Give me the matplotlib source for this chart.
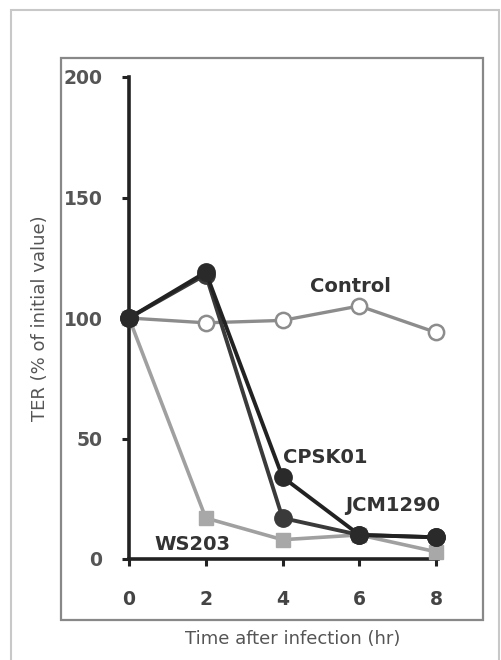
import matplotlib
matplotlib.use('Agg')
import matplotlib.pyplot as plt
from matplotlib.patches import Rectangle

# data
hours = [0, 2, 4, 6, 8]
control = [100, 98, 99, 105, 94]
cpsk01 = [100, 119, 34, 10, 9]
jcm1290 = [100, 118, 17, 10, 9]
ws203 = [100, 17, 8, 10, 3]

W, H = 501, 660
fig = plt.figure(figsize=(W / 100, H / 100), dpi=100)
fig.patch.set_facecolor('white')

# frames drawn on the figure (pixel coords -> figure fraction)
def box(x0, y0, x1, y1, color, lw):
    fig.patches.append(Rectangle((x0 / W, 1 - y1 / H), (x1 - x0) / W, (y1 - y0) / H,
                                 transform=fig.transFigure, fill=False,
                                 edgecolor=color, linewidth=lw))

box(11, 10, 499, 662, '#c8c8c8', 1.5)
box(61, 58, 483, 620, '#888888', 1.6)

ax = fig.add_axes([129 / W, 1 - 559 / H, (438 - 129) / W, (559 - 77) / H])
ax.set_facecolor('none')

ax.plot(hours, control, color='#8c8c8c', lw=2.4, marker='o', ms=11,
        mfc='white', mec='#8c8c8c', mew=1.8, clip_on=False, zorder=3)
ax.plot(hours, ws203, color='#a0a0a0', lw=2.6, marker='s', ms=10,
        mfc='#a8a8a8', mec='#a8a8a8', clip_on=False, zorder=4)
ax.plot(hours, jcm1290, color='#3a3a3a', lw=2.8, marker='o', ms=12.5,
        mfc='#3a3a3a', mec='#3a3a3a', clip_on=False, zorder=5)
ax.plot(hours, cpsk01, color='#222222', lw=2.8, marker='o', ms=12.5,
        mfc='#2a2a2a', mec='#2a2a2a', clip_on=False, zorder=6)

ax.set_xlim(0, 8.05)
ax.set_ylim(0, 200)
ax.set_xticks([0, 2, 4, 6, 8])
ax.set_yticks([0, 50, 100, 150, 200])

for s in ['top', 'right']:
    ax.spines[s].set_visible(False)
for s in ['left', 'bottom']:
    ax.spines[s].set_linewidth(2.6)
    ax.spines[s].set_color('#222222')

ax.tick_params(axis='y', direction='out', length=5, width=2.2, color='#222222',
               pad=14, labelsize=13.5, labelcolor='#555555')
ax.tick_params(axis='x', direction='out', length=5, width=2.2, color='#222222',
               pad=17, labelsize=13.5, labelcolor='#444444')
for lab in ax.get_xticklabels() + ax.get_yticklabels():
    lab.set_fontweight('bold')

ax.text(5.76, 113, 'Control', ha='center', va='center', fontsize=14,
        fontweight='bold', color='#333333')
ax.text(5.1, 42, 'CPSK01', ha='center', va='center', fontsize=14,
        fontweight='bold', color='#333333')
ax.text(6.87, 22, 'JCM1290', ha='center', va='center', fontsize=14,
        fontweight='bold', color='#333333')
ax.text(1.64, 6, 'WS203', ha='center', va='center', fontsize=14,
        fontweight='bold', color='#333333')

fig.text(40 / W, 1 - 318 / H, 'TER (% of initial value)', rotation=90,
         ha='center', va='center', fontsize=13, color='#555555')
fig.text(293 / W, 1 - 639 / H, 'Time after infection (hr)',
         ha='center', va='center', fontsize=13, color='#555555')

fig.savefig('out.png', dpi=100)
